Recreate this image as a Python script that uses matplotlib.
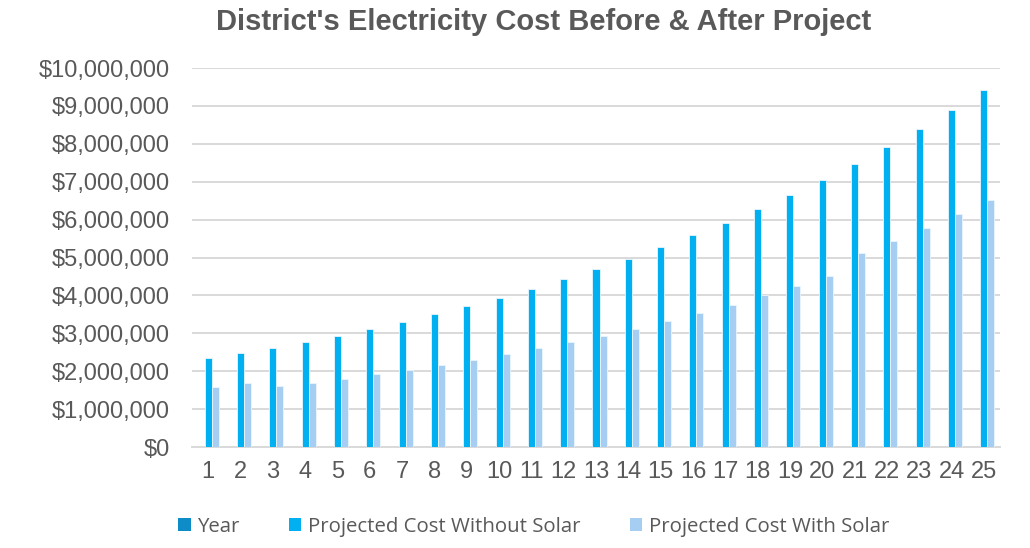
import matplotlib
matplotlib.use("Agg")
import matplotlib.pyplot as plt
from matplotlib.ticker import FuncFormatter
import numpy as np

# data
years = list(range(1, 26))
cost_without_solar = [
    2.35e6, 2.47e6, 2.62e6, 2.78e6, 2.94e6, 3.12e6, 3.30e6, 3.50e6, 3.71e6, 3.93e6,
    4.17e6, 4.42e6, 4.69e6, 4.97e6, 5.27e6, 5.59e6, 5.92e6, 6.27e6, 6.65e6, 7.05e6,
    7.47e6, 7.92e6, 8.40e6, 8.90e6, 9.43e6,
]
cost_with_solar = [
    1.59e6, 1.68e6, 1.60e6, 1.70e6, 1.80e6, 1.92e6, 2.04e6, 2.17e6, 2.30e6, 2.45e6,
    2.60e6, 2.76e6, 2.94e6, 3.12e6, 3.33e6, 3.54e6, 3.75e6, 4.00e6, 4.25e6, 4.52e6,
    5.12e6, 5.44e6, 5.79e6, 6.14e6, 6.52e6,
]
series_names = ["Year", "Projected Cost Without Solar", "Projected Cost With Solar"]
colors = ["#0E8CC8", "#00B0F0", "#A6CEF3"]

TEXT = "#595959"
GRID = "#D9D9D9"

plt.rcParams["font.family"] = ["Liberation Sans", "DejaVu Sans"]

fig = plt.figure(figsize=(10.3, 5.48), dpi=100)
ax = fig.add_axes([192 / 1030, 1 - 447 / 548, 808 / 1030, 379 / 548])

x = np.arange(len(years))
w = 0.217
for i, (vals, name, c) in enumerate(zip([years, cost_without_solar, cost_with_solar],
                                        series_names, colors)):
    ax.bar(x + (i - 1) * w, vals, width=w, color=c, edgecolor="#EAF6FD",
           linewidth=0.6, label=name, zorder=3)

ax.set_xlim(-0.5, len(years) - 0.5)
ax.set_ylim(0, 10_000_000)
ax.set_yticks(np.arange(0, 10_000_001, 1_000_000))
ax.yaxis.set_major_formatter(FuncFormatter(lambda v, p: f"${v:,.0f}"))
ax.set_xticks(x)
ax.set_xticklabels([str(y) for y in years])

ax.grid(axis="y", color=GRID, linewidth=1.4, zorder=0)
for s in ["top", "right", "left"]:
    ax.spines[s].set_visible(False)
ax.spines["bottom"].set_color(GRID)
ax.spines["bottom"].set_linewidth(1.4)
ax.tick_params(axis="both", length=0, colors=TEXT, labelsize=17)
ax.tick_params(axis="y", pad=16)
ax.tick_params(axis="x", pad=10)

fig.text(544 / 1030, 1 - 22 / 548, "District's Electricity Cost Before & After Project",
         ha="center", va="center", fontsize=21, fontweight="bold", color=TEXT)

leg = fig.legend(loc="center", bbox_to_anchor=(534 / 1030, 1 - 527 / 548), ncol=3,
                 frameon=False, handlelength=0.6, handleheight=0.6, handletextpad=0.35,
                 columnspacing=2.4, prop={"family": ["Open Sans", "DejaVu Sans"], "size": 14.7})
for t in leg.get_texts():
    t.set_color(TEXT)
for h in leg.legend_handles:
    h.set_edgecolor("none")

fig.savefig("out.png", dpi=100)
